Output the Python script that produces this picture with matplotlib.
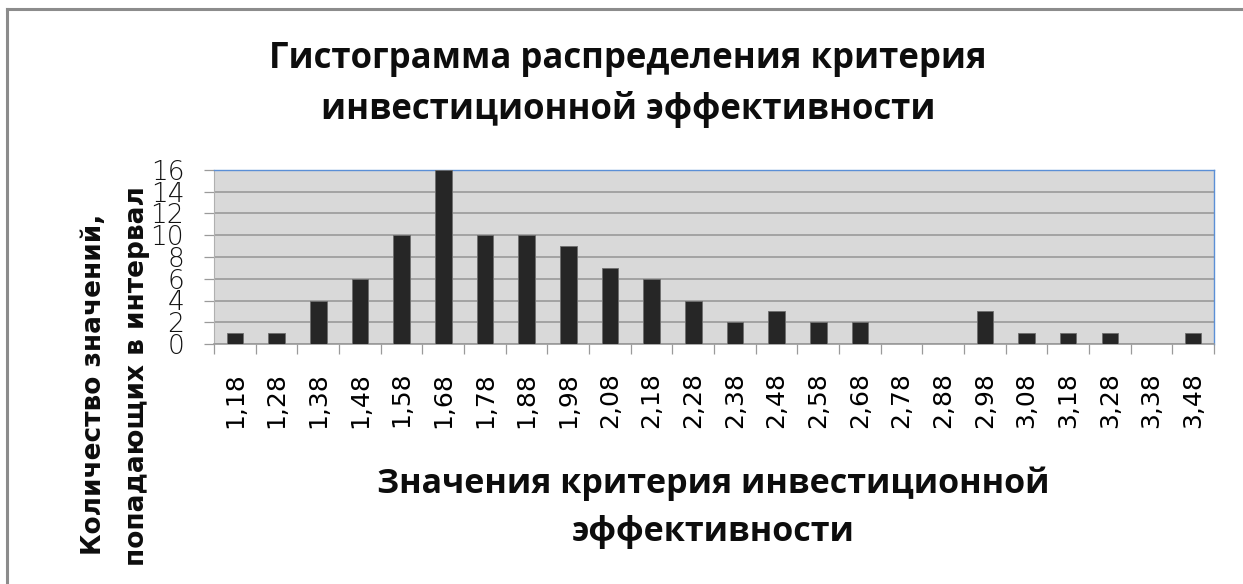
import matplotlib
matplotlib.use("Agg")
import matplotlib.pyplot as plt
from matplotlib.lines import Line2D
import numpy as np

# interval midpoints and counts
bins = ["1,18", "1,28", "1,38", "1,48", "1,58", "1,68", "1,78", "1,88",
        "1,98", "2,08", "2,18", "2,28", "2,38", "2,48", "2,58", "2,68",
        "2,78", "2,88", "2,98", "3,08", "3,18", "3,28", "3,38", "3,48"]
counts = [1, 1, 4, 6, 10, 16, 10, 10, 9, 7, 6, 4, 2, 3, 2, 2, 0, 0, 3, 1, 1, 1, 0, 1]
y_ticks = [0, 2, 4, 6, 8, 10, 12, 14, 16]

title_lines = ["Гистограмма распределения критерия", "инвестиционной эффективности"]
xlabel_lines = ["Значения критерия инвестиционной", "эффективности"]
ylabel_lines = ["Количество значений,", "попадающих в интервал"]

W, H = 1243, 584
BAR = "#262626"
PANEL = "#d9d9d9"
GRID = "#9a9a9a"
BLUE = "#5b8fd6"
FRAME = "#8c8c8c"

fig = plt.figure(figsize=(W / 100, H / 100), dpi=100, facecolor="white")


def fx(px):
    return px / W


def fy(py):
    return 1 - py / H


ax = fig.add_axes([fx(214), fy(344), fx(1214) - fx(214), fy(170) - fy(344)])
ax.set_facecolor(PANEL)

x = np.arange(len(bins))
ax.bar(x, counts, width=0.4, color=BAR, edgecolor="#6e6e6e", linewidth=0.6, zorder=3)

ax.set_xlim(-0.5, len(bins) - 0.5)
ax.set_ylim(0, 16)
ax.set_yticks(y_ticks)
ax.set_yticklabels([str(v) for v in y_ticks])
ax.yaxis.grid(True, color=GRID, linewidth=1.2)
ax.set_axisbelow(True)

ax.set_xticks(x)
ax.set_xticklabels(bins, rotation=90, fontsize=18, family="DejaVu Sans")
ax.set_xticks(np.arange(len(bins) + 1) - 0.5, minor=True)
ax.tick_params(axis="x", which="major", length=0, pad=20)
ax.tick_params(axis="x", which="minor", length=7.5, width=0.9, color=GRID, direction="out")
ax.tick_params(axis="y", length=7.5, width=0.9, color=GRID, pad=14, labelsize=19)
for lab in ax.get_yticklabels():
    lab.set_fontweight("light")
    lab.set_color("#111111")

ax.spines["top"].set_color(BLUE)
ax.spines["right"].set_color(BLUE)
ax.spines["top"].set_linewidth(1.0)
ax.spines["right"].set_linewidth(1.0)
ax.spines["bottom"].set_color(GRID)
ax.spines["bottom"].set_linewidth(1.2)
ax.spines["left"].set_color("#b0b0b0")
ax.spines["left"].set_linewidth(0.8)

# titles
head = dict(family=["Open Sans", "DejaVu Sans"], fontweight="bold", color="#0d0d0d")
fig.text(fx(628), fy(68), title_lines[0], ha="center", va="baseline", fontsize=25, **head)
fig.text(fx(628), fy(119), title_lines[1], ha="center", va="baseline", fontsize=25, **head)
fig.text(fx(713), fy(493), xlabel_lines[0], ha="center", va="baseline", fontsize=24.5, **head)
fig.text(fx(713), fy(541), xlabel_lines[1], ha="center", va="baseline", fontsize=24.5, **head)

side = dict(family="DejaVu Sans", fontweight="bold", color="#0d0d0d",
            rotation=90, ha="center", va="center", fontsize=19)
fig.text(fx(94), fy(384), ylabel_lines[0], **side)
fig.text(fx(137), fy(376), ylabel_lines[1], **side)

# outer frame (top and left edges)
fig.add_artist(Line2D([fx(7), 1], [fy(9), fy(9)], color=FRAME, lw=2.2, transform=fig.transFigure))
fig.add_artist(Line2D([fx(7), fx(7)], [fy(9), 0], color=FRAME, lw=2.2, transform=fig.transFigure))

fig.savefig("out.png", dpi=100, facecolor="white")
